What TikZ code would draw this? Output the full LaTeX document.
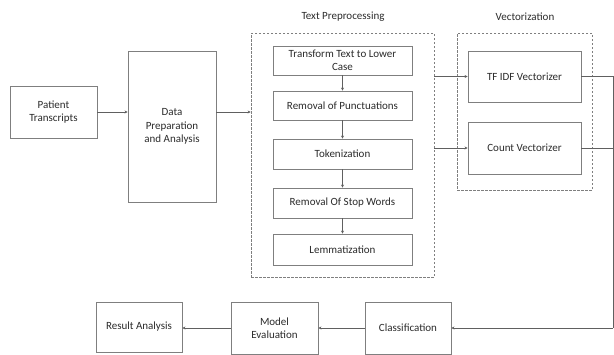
\documentclass[tikz,border=0pt]{standalone}
\usepackage{fontspec}
\setmainfont{Carlito}
\usetikzlibrary{arrows.meta}
\definecolor{edge}{HTML}{7F7F7F}
\definecolor{ink}{HTML}{2B2B2B}
\definecolor{lin}{HTML}{606060}
\begin{document}
\begin{tikzpicture}[x=1pt,y=-1pt,
  box/.style={draw=edge,line width=0.9pt,fill=white,align=center,text=ink,inner sep=1pt,font=\fontsize{11}{13.5}\selectfont},
  grp/.style={draw=edge,line width=0.7pt,dashed,dash pattern=on 2.5pt off 1.5pt},
  ttl/.style={text=ink,font=\fontsize{11}{13}\selectfont},
  arr/.style={draw=lin,line width=0.7pt,-{Stealth[length=3pt,width=3pt]}},
  ln/.style={draw=lin,line width=0.7pt}]
\useasboundingbox (0,0) rectangle (614,354);
% groups
\node[grp,minimum width=183pt,minimum height=244pt] (tp) at (342.5,155) {};
\node[grp,minimum width=135pt,minimum height=157pt] (vg) at (524.5,111.5) {};
\node[ttl] (tpt) at (343,17) {Text Preprocessing};
\node[ttl] (vgt) at (525,17) {Vectorization};
% boxes
\node[box,minimum width=87pt,minimum height=52pt] (pt) at (53.5,112) {Patient\\Transcripts};
\node[box,minimum width=88pt,minimum height=151pt] (dp) at (172,126.5) {Data\\Preparation\\and Analysis};
\node[box,minimum width=139pt,minimum height=29pt] (b1) at (342.5,60.5) {Transform Text to Lower\\Case};
\node[box,minimum width=139pt,minimum height=29pt] (b2) at (342.5,105.5) {Removal of Punctuations};
\node[box,minimum width=139pt,minimum height=30pt] (b3) at (342.5,154) {Tokenization};
\node[box,minimum width=139pt,minimum height=30pt] (b4) at (342.5,203) {Removal Of Stop Words};
\node[box,minimum width=139pt,minimum height=31pt] (b5) at (342.5,249.5) {Lemmatization};
\node[box,minimum width=113pt,minimum height=51pt] (tf) at (524.5,76.5) {TF IDF Vectorizer};
\node[box,minimum width=113pt,minimum height=52pt] (cv) at (524.5,148) {Count Vectorizer};
\node[box,minimum width=86pt,minimum height=50pt] (ra) at (139,327) {Result Analysis};
\node[box,minimum width=87pt,minimum height=52pt] (me) at (274.5,328) {Model\\Evaluation};
\node[box,minimum width=86pt,minimum height=52pt] (cl) at (408,328) {Classification};
\coordinate (rtop) at (613,76.5);
\coordinate (rbot) at (613,328);
% connectors
\draw[arr] (pt.east) -- (dp.west |- pt.east);
\draw[arr] (dp.east |- pt.east) -- (tp.west |- pt.east);
\draw[arr] (b1) -- (b2);
\draw[arr] (b2) -- (b3);
\draw[arr] (b3) -- (b4);
\draw[arr] (b4) -- (b5);
\draw[arr] (tp.east |- tf.west) -- (tf.west);
\draw[arr] (tp.east |- cv.west) -- (cv.west);
\draw[ln] (tf.east) -- (rtop) -- (rbot);
\draw[ln] (cv.east) -- (cv.east -| rtop);
\draw[arr] (rbot) -- (cl.east);
\draw[arr] (cl.west) -- (me.east);
\draw[arr] (me.west) -- (ra.east |- me.west);
\end{tikzpicture}
\end{document}
